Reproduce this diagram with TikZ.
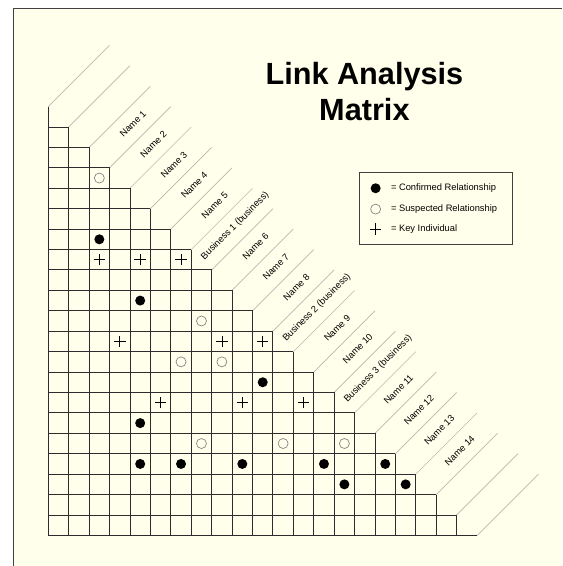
\documentclass[tikz,border=0pt]{standalone}
\usepackage{fontspec}
\setmainfont{Liberation Sans}
\usetikzlibrary{shapes.misc}

\definecolor{paper}{RGB}{255,255,235}
\definecolor{framec}{RGB}{64,64,64}
\definecolor{gridc}{RGB}{45,45,45}
\definecolor{diagc}{RGB}{185,185,178}
\definecolor{hollowc}{RGB}{130,130,130}

\tikzset{
  gridline/.style={draw=gridc,line width=0.7pt},
  diagline/.style={draw=diagc,line width=0.5pt},
  lbl/.style={rotate=45,inner sep=0pt,font=\fontsize{7}{8}\selectfont},
  confirmed/.style={circle,fill=black,inner sep=0pt,minimum size=7.5pt},
  suspected/.style={circle,draw=hollowc,line width=0.5pt,inner sep=0pt,minimum size=7.5pt},
  keyind/.style={cross out,draw=black,line width=0.5pt,rotate=45,inner sep=0pt,minimum size=5.6pt},
  legtext/.style={anchor=west,inner sep=0pt,font=\fontsize{7}{8}\selectfont}
}

\begin{document}
\begin{tikzpicture}[x=15.315pt,y=-15.315pt]
\useasboundingbox (-2.365,-6.219) rectangle (25.157,21.498);
\fill[paper] (-1.714,-5.78) rectangle (25.157,21.498);
\draw[framec,line width=0.8pt] (-1.714,21.498) -- (-1.714,-5.78) -- (25.157,-5.78);

% title
\node[anchor=base,font=\fontsize{23}{26}\selectfont\bfseries] (title1) at (15.48,-2.06) {Link Analysis};
\node[anchor=base,font=\fontsize{23}{26}\selectfont\bfseries] (title2) at (15.48,-0.34) {Matrix};

% staircase grid and diagonal strips
\foreach \k in {0,...,21}
  \draw[diagline] (\k,\k-1) -- (\k+3,\k-4);
\foreach \k in {0,...,20}{
  \draw[gridline] (0,\k) -- (\k+1,\k);
  \draw[gridline] (\k,\k-1) -- (\k,20);
}

% names
\node[lbl] (n1)  at (4.15,-0.15)  {Name 1};
\node[lbl] (n2)  at (5.15,0.85)   {Name 2};
\node[lbl] (n3)  at (6.15,1.85)   {Name 3};
\node[lbl] (n4)  at (7.15,2.85)   {Name 4};
\node[lbl] (n5)  at (8.15,3.85)   {Name 5};
\node[lbl] (b1)  at (9.15,4.85)   {Business 1 (business)};
\node[lbl] (n6)  at (10.15,5.85)  {Name 6};
\node[lbl] (n7)  at (11.15,6.85)  {Name 7};
\node[lbl] (n8)  at (12.15,7.85)  {Name 8};
\node[lbl] (b2)  at (13.15,8.85)  {Business 2 (business)};
\node[lbl] (n9)  at (14.15,9.85)  {Name 9};
\node[lbl] (n10) at (15.15,10.85) {Name 10};
\node[lbl] (b3)  at (16.15,11.85) {Business 3 (business)};
\node[lbl] (n11) at (17.15,12.85) {Name 11};
\node[lbl] (n12) at (18.15,13.85) {Name 12};
\node[lbl] (n13) at (19.15,14.85) {Name 13};
\node[lbl] (n14) at (20.15,15.85) {Name 14};

% confirmed
\node[confirmed] (f1)  at (2.5,5.5)   {};
\node[confirmed] (f2)  at (4.5,8.5)   {};
\node[confirmed] (f3)  at (10.5,12.5) {};
\node[confirmed] (f4)  at (4.5,14.5)  {};
\node[confirmed] (f5)  at (4.5,16.5)  {};
\node[confirmed] (f6)  at (6.5,16.5)  {};
\node[confirmed] (f7)  at (9.5,16.5)  {};
\node[confirmed] (f8)  at (13.5,16.5) {};
\node[confirmed] (f9)  at (16.5,16.5) {};
\node[confirmed] (f10) at (14.5,17.5) {};
\node[confirmed] (f11) at (17.5,17.5) {};

% suspected
\node[suspected] (h1) at (2.5,2.5)   {};
\node[suspected] (h2) at (7.5,9.5)   {};
\node[suspected] (h3) at (6.5,11.5)  {};
\node[suspected] (h4) at (8.5,11.5)  {};
\node[suspected] (h5) at (7.5,15.5)  {};
\node[suspected] (h6) at (11.5,15.5) {};
\node[suspected] (h7) at (14.5,15.5) {};

% key individuals
\node[keyind] (k1) at (2.5,6.5)   {};
\node[keyind] (k2) at (4.5,6.5)   {};
\node[keyind] (k3) at (6.5,6.5)   {};
\node[keyind] (k4) at (3.5,10.5)  {};
\node[keyind] (k5) at (8.5,10.5)  {};
\node[keyind] (k6) at (10.5,10.5) {};
\node[keyind] (k7) at (5.5,13.5)  {};
\node[keyind] (k8) at (9.5,13.5)  {};
\node[keyind] (k9) at (12.5,13.5) {};

% legend
\draw[framec,line width=0.7pt] (15.26,2.22) rectangle (22.74,5.74);
\node[confirmed] (lc) at (16.03,3.0)  {};
\node[suspected] (ls) at (16.03,4.02) {};
\node[keyind]    (lk) at (16.03,5.0)  {};
\node[legtext] (tc) at (16.77,3.0)  {= Confirmed Relationship};
\node[legtext] (ts) at (16.77,4.02) {= Suspected Relationship};
\node[legtext] (tk) at (16.77,5.0)  {= Key Individual};
\end{tikzpicture}
\end{document}
